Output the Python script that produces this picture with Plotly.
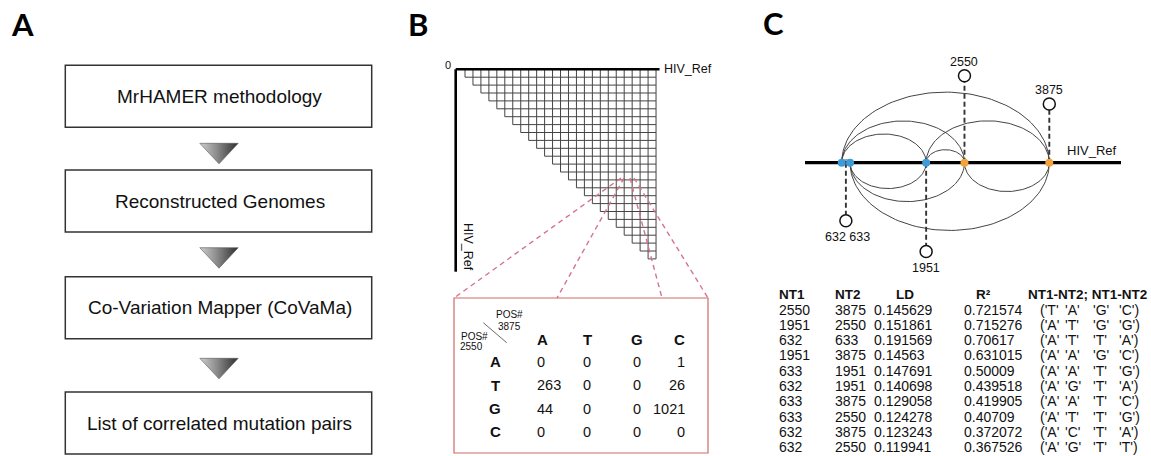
import numpy as np
import plotly.graph_objects as go

W, H = 1151, 456

# ---------------- data ----------------
# Panel A: pipeline steps
steps = ["MrHAMER methodology", "Reconstructed Genomes",
         "Co-Variation Mapper (CoVaMa)", "List of correlated mutation pairs"]

# Panel B: contingency table between two positions
grid_n = 24
ref_name = "HIV_Ref"
pos_row = 2550
pos_col = 3875
bases = ["A", "T", "G", "C"]
counts = [[0, 0, 0, 1],
          [263, 0, 0, 26],
          [44, 0, 0, 1021],
          [0, 0, 0, 0]]

# Panel C: correlated mutation pairs
sites = [632, 633, 1951, 2550, 3875]
site_group = ["blue", "blue", "blue", "orange", "orange"]
nt1 = [2550, 1951, 632, 1951, 633, 632, 633, 633, 632, 632]
nt2 = [3875, 2550, 633, 3875, 1951, 1951, 3875, 2550, 3875, 2550]
ld = [0.145629, 0.151861, 0.191569, 0.14563, 0.147691, 0.140698,
      0.129058, 0.124278, 0.123243, 0.119941]
r2 = [0.721574, 0.715276, 0.70617, 0.631015, 0.50009, 0.439518,
      0.419905, 0.40709, 0.372072, 0.367526]
nt_pairs = [("T", "A", "G", "C"), ("A", "T", "G", "G"), ("A", "T", "T", "A"),
            ("A", "A", "G", "C"), ("A", "A", "T", "G"), ("A", "G", "T", "A"),
            ("A", "A", "T", "C"), ("A", "T", "T", "G"), ("A", "C", "T", "A"),
            ("A", "G", "T", "T")]
callout_groups = [[2550], [3875], [632, 633], [1951]]
table_headers = ["NT1", "NT2", "LD", "R²", "NT1-NT2; NT1-NT2"]

# ---------------- style / layout ----------------
FONT = "Liberation Sans"
LETTER_FONT = "Lato"
fig = go.Figure()
annotations = []
shapes = []


def txt(x, y, s, size, bold=False, xa="center", ya="middle", angle=0,
        family=FONT, color="#111"):
    annotations.append(dict(x=x, y=y, xref="x", yref="y", text=s, showarrow=False,
                            xanchor=xa, yanchor=ya, textangle=angle,
                            font=dict(family=family, size=size, color=color,
                                      weight="bold" if bold else "normal")))


def seg_trace(segs, color, width, dash="solid"):
    xs, ys = [], []
    for (x0, y0, x1, y1) in segs:
        xs += [x0, x1, None]
        ys += [y0, y1, None]
    fig.add_trace(go.Scatter(x=xs, y=ys, mode="lines", hoverinfo="skip",
                             line=dict(color=color, width=width, dash=dash),
                             showlegend=False))


# panel letters
txt(22.8, 24, "A", 31, bold=True, family=LETTER_FONT, color="#000")
txt(417.5, 24, "B", 31, bold=True, family=LETTER_FONT, color="#000")
txt(773, 23, "C", 31, bold=True, family=LETTER_FONT, color="#000")

# ---------------- Panel A ----------------
box_x0, box_x1 = 65.3, 371.7
box_tops = [65.3, 170, 276.7, 392]
box_h = 62
for top, label in zip(box_tops, steps):
    shapes.append(dict(type="rect", xref="x", yref="y", x0=box_x0, x1=box_x1,
                       y0=top, y1=top + box_h, line=dict(color="#333", width=1.5)))
    txt((box_x0 + box_x1) / 2 + 1, top + box_h / 2, label, 19)

tri_tops = [143.3, 247.7, 358.3]
tri_cx, tri_hw, tri_h = 219, 19.2, 20.5
for t in tri_tops[:len(steps) - 1]:
    fig.add_trace(go.Scatter(
        x=[tri_cx - tri_hw, tri_cx + tri_hw, tri_cx, tri_cx - tri_hw],
        y=[t, t, t + tri_h, t], mode="lines", fill="toself",
        line=dict(color="#555", width=0.6),
        fillgradient=dict(type="horizontal",
                          colorscale=[[0, "#cfcfcf"], [0.45, "#8a8a8a"], [1, "#2e2e2e"]]),
        hoverinfo="skip", showlegend=False))

# ---------------- Panel B ----------------
gx0, gy0 = 465.0, 69.3
cell_w, cell_h = 7.96, 7.9
ax_x, ax_y = 455.7, 69.3
xe = [gx0 + i * cell_w for i in range(grid_n + 1)]
ye = [gy0 + i * cell_h for i in range(grid_n + 1)]
segs = []
for r in range(grid_n + 1):
    start = xe[max(r - 1, 0)]
    segs.append((start, ye[r], xe[grid_n], ye[r]))
for c in range(grid_n + 1):
    segs.append((xe[c], ye[0], xe[c], ye[min(c + 1, grid_n)]))
seg_trace(segs, "#444", 1.0)
seg_trace([(ax_x, ax_y, xe[grid_n] + 3.5, ax_y), (ax_x, ax_y, ax_x, 271.7)], "#000", 2.6)
txt(453, 65, "0", 11, xa="right")
txt(662, 69, ref_name, 12.5, xa="left")
txt(468, 247, ref_name, 12.5, angle=90)

# zoom box
bx0, by0, bx1, by1 = 454, 298, 708, 453
shapes.append(dict(type="rect", xref="x", yref="y", x0=bx0, x1=bx1, y0=by0, y1=by1,
                   line=dict(color="#cf6a6a", width=1.2)))
seg_trace([(621, 178, bx0, by0), (624, 178, 557, by0),
           (630, 178, 662, by0), (634, 178, bx1, by0)], "#d4738c", 1.4, dash="5px,4px")

txt(509, 314.5, "POS#", 10)
txt(509, 326.5, str(pos_col), 10)
txt(474, 336, "POS#", 10)
txt(471.5, 346, str(pos_row), 10)
seg_trace([(483.3, 322.7, 506.7, 342.7)], "#444", 0.8)

col_x = [535, 587, 637, 687]
col_anchor = ["left", "center", "center", "right"]
row_y0, row_dy = 361.7, 23.4
for j, b in enumerate(bases):
    txt(col_x[j], 339.5, b, 15, bold=True, xa=col_anchor[j])
for i, b in enumerate(bases):
    y = row_y0 + i * row_dy
    txt(495, y, b, 15, bold=True)
    for j in range(len(bases)):
        txt(col_x[j], y, str(counts[i][j]), 14.5, xa=col_anchor[j])

# ---------------- Panel C ----------------
base_y = 162.7
C_X0, C_X1 = 841.7, 1049.3
nudge = {633: 8.3}
P0, P1 = min(sites), max(sites)


def sx(p):
    return C_X0 + (p - P0) * (C_X1 - C_X0) / (P1 - P0) + nudge.get(p, 0)


# arcs (above for pairs starting at 632 and 1951, below otherwise)
arc_above = [False, True, True, True, False, True, False, False, True, True]
t = np.linspace(0, np.pi, 80)
axs, ays = [], []
for a, b, up in zip(nt1, nt2, arc_above):
    xa_, xb_ = sx(a), sx(b)
    cx, rx = (xa_ + xb_) / 2, abs(xb_ - xa_) / 2
    ry = 0.68 * rx
    sgn = -1 if up else 1
    axs += list(cx + rx * np.cos(t)) + [None]
    ays += list(base_y + sgn * ry * np.sin(t)) + [None]
fig.add_trace(go.Scatter(x=axs, y=ays, mode="lines", line=dict(color="#444", width=1.0),
                         hoverinfo="skip", showlegend=False))

seg_trace([(805, base_y, 1121, base_y)], "#000", 3.2)
txt(1092, 150.5, ref_name, 13)

# callouts
callout_y = [75.7, 104, 220.7, 251.5]
r_circ = 6
for grp, cy in zip(callout_groups, callout_y):
    cx = float(np.mean([sx(p) for p in grp]))
    up = cy < base_y
    y_end = cy + r_circ if up else cy - r_circ
    seg_trace([(cx, base_y, cx, y_end)], "#333", 1.9, dash="5px,3px")
    fig.add_trace(go.Scatter(x=[cx], y=[cy], mode="markers",
                             marker=dict(symbol="circle", size=12, color="white",
                                         line=dict(color="#111", width=1.5)),
                             hoverinfo="skip", showlegend=False))
    label = " ".join(str(p) for p in grp)
    txt(cx + (1.5 if len(grp) > 1 else 0), cy - 14 if up else cy + 16, label, 12.5)

dot_colors = {"blue": "#3d9bd8", "orange": "#f2a33a"}
fig.add_trace(go.Scatter(x=[sx(p) for p in sites], y=[base_y] * len(sites), mode="markers",
                         marker=dict(size=8, color=[dot_colors[g] for g in site_group]),
                         hoverinfo="skip", showlegend=False))

# LD table
hy, ry0, rdy = 294, 309.5, 15.3
FS = 14
hdr_x = [777.3, 833.3, 904.5, 983, 1087]
hdr_anchor = ["left", "left", "center", "center", "center"]
for h, x, a in zip(table_headers, hdr_x, hdr_anchor):
    txt(x, hy, h, 13.5, bold=True, xa=a)
tup_x = [1038, 1062.5, 1091, 1116.5]
for i in range(len(nt1)):
    y = ry0 + i * rdy
    txt(777.3, y, str(nt1[i]), FS, xa="left")
    txt(833.3, y, str(nt2[i]), FS, xa="left")
    txt(872.3, y, str(ld[i]), FS, xa="left")
    txt(962.3, y, str(r2[i]), FS, xa="left")
    for k, ch in enumerate(nt_pairs[i]):
        s = "'" + ch + "'"
        if k == 0:
            s = "(" + s
        if k == len(nt_pairs[i]) - 1:
            s = s + ")"
        txt(tup_x[k], y, s, FS, xa="left")

fig.update_layout(
    width=W, height=H, margin=dict(l=0, r=0, t=0, b=0),
    paper_bgcolor="white", plot_bgcolor="white",
    xaxis=dict(range=[0, W], visible=False, fixedrange=True),
    yaxis=dict(range=[H, 0], visible=False, fixedrange=True),
    annotations=annotations, shapes=shapes, showlegend=False,
)
fig.write_html("out.html", config={"displayModeBar": False},
               post_script="document.body.style.margin='0';document.body.style.overflow='hidden';")
